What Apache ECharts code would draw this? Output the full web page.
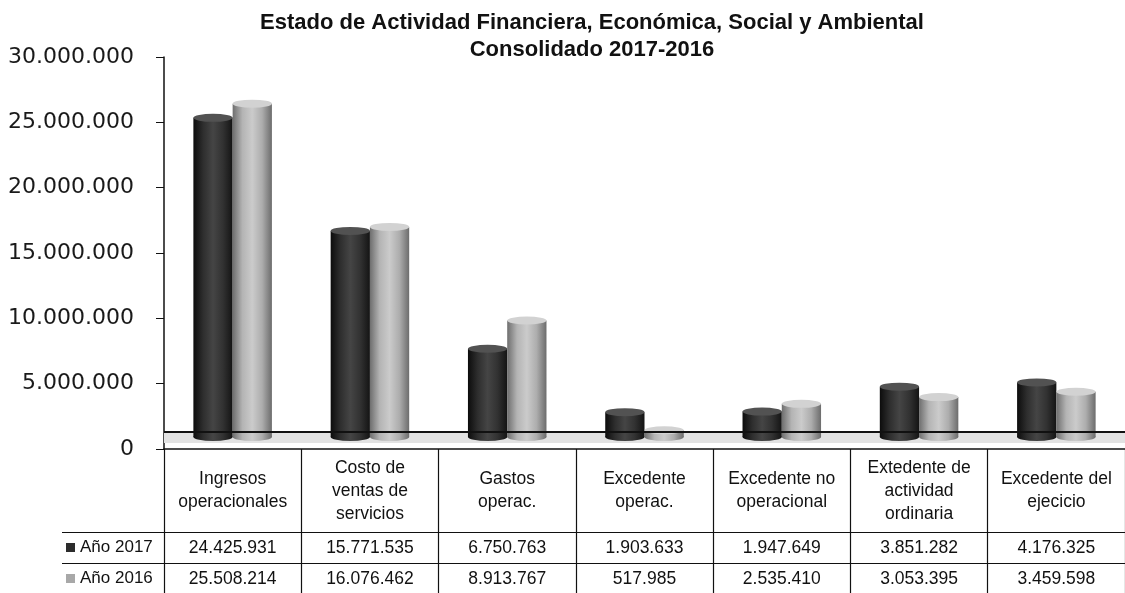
<!DOCTYPE html>
<html>
<head>
<meta charset="utf-8">
<script src="https://cdn.jsdelivr.net/npm/echarts@6/dist/echarts.min.js"></script>
<style>
html,body{margin:0;padding:0;background:#fff;}
#chart{width:1125px;height:593px;}
</style>
</head>
<body>
<div id="chart"></div>
<script>
// ---- data ----
const titleText = 'Estado de Actividad Financiera, Económica, Social y Ambiental\nConsolidado 2017-2016';
const categories = [
  'Ingresos\noperacionales',
  'Costo de\nventas de\nservicios',
  'Gastos\noperac.',
  'Excedente\noperac.',
  'Excedente no\noperacional',
  'Extedente de\nactividad\nordinaria',
  'Excedente del\nejecicio'
];
const seriesNames = ['Año 2017', 'Año 2016'];
const values2017 = [24425931, 15771535, 6750763, 1903633, 1947649, 3851282, 4176325];
const values2016 = [25508214, 16076462, 8913767, 517985, 2535410, 3053395, 3459598];
const yTicks = [0, 5000000, 10000000, 15000000, 20000000, 25000000, 30000000];

// ---- helpers ----
function fmt(n) { return String(n).replace(/\B(?=(\d{3})+(?!\d))/g, '.'); }
const G = echarts.graphic;
function hGrad(stops) { return new G.LinearGradient(0, 0, 1, 0, stops.map((c, i) => ({offset: i / (stops.length - 1), color: c}))); }
const darkBody = hGrad(['#0c0c0c', '#2e2e2e', '#454545', '#323232', '#141414']);
const lightBody = hGrad(['#6e6e6e', '#b4b4b4', '#cbcbcb', '#adadad', '#6c6c6c']);
const darkTop = '#525252';
const lightTop = '#d2d2d2';

const tableFont = 'Liberation Sans, Arial, sans-serif';
const yMax = yTicks[yTicks.length - 1];
const yInterval = yTicks[1] - yTicks[0];
const BW = '28.6%';

const option = {
  animation: false,
  backgroundColor: '#fff',
  title: {
    text: titleText,
    left: 587,
    textAlign: 'center',
    top: 4,
    textStyle: {fontFamily: 'Liberation Sans, Arial', fontWeight: 'bold', fontSize: 22, lineHeight: 27, color: '#111'}
  },
  legend: [
    {data: [{name: seriesNames[0], itemStyle: {color: '#2c2c2c'}}], left: 66, top: 539, padding: 0, icon: 'rect', itemWidth: 9, itemHeight: 9,
     textStyle: {fontFamily: tableFont, fontSize: 17, color: '#111'}, selectedMode: false},
    {data: [{name: seriesNames[1], itemStyle: {color: '#a8a8a8'}}], left: 66, top: 570, padding: 0, icon: 'rect', itemWidth: 9, itemHeight: 9,
     textStyle: {fontFamily: tableFont, fontSize: 17, color: '#111'}, selectedMode: false}
  ],
  grid: [
    {left: 164, right: -6, top: 57, bottom: 144, containLabel: false},
    {left: 164, right: -6, top: 45, bottom: 156, containLabel: false}
  ],
  xAxis: [
    {type: 'category', gridIndex: 0, data: categories, position: 'bottom',
     axisLine: {show: true, onZero: false, lineStyle: {color: '#111', width: 1.5}},
     axisTick: {show: true, interval: 0, length: 150, lineStyle: {color: '#111', width: 1.2}},
     axisLabel: {interval: 0, margin: 42, verticalAlign: 'middle', lineHeight: 23, fontFamily: tableFont, fontSize: 17.5, color: '#111'},
     splitLine: {show: false}},
    {type: 'category', gridIndex: 0, data: values2017.map(fmt), position: 'bottom', offset: 83,
     axisLine: {show: true, onZero: false, lineStyle: {color: '#111', width: 1.2}},
     axisTick: {show: false},
     axisLabel: {interval: 0, margin: 16, verticalAlign: 'middle', fontFamily: tableFont, fontSize: 17.5, color: '#111'}},
    {type: 'category', gridIndex: 0, data: values2016.map(fmt), position: 'bottom', offset: 114,
     axisLine: {show: true, onZero: false, lineStyle: {color: '#111', width: 1.2}},
     axisTick: {show: false},
     axisLabel: {interval: 0, margin: 16, verticalAlign: 'middle', fontFamily: tableFont, fontSize: 17.5, color: '#111'}},
    {type: 'category', gridIndex: 1, data: categories, show: false},
    {type: 'category', gridIndex: 1, data: categories, show: false}
  ],
  yAxis: [
    {type: 'value', gridIndex: 0, min: 0, max: yMax, interval: yInterval,
     axisLine: {show: true, lineStyle: {color: '#111', width: 1.5}},
     axisTick: {show: true, length: 8, lineStyle: {color: '#111'}},
     splitLine: {show: false},
     axisLabel: {margin: 30, formatter: v => fmt(v), fontFamily: 'DejaVu Sans, Verdana, sans-serif', fontSize: 22, color: '#1a1a1a'}},
    {type: 'value', gridIndex: 1, min: 0, max: yMax, interval: yInterval, show: false}
  ],
  series: [
    {
      name: 'floor', type: 'line', xAxisIndex: 0, yAxisIndex: 0, silent: true,
      data: categories.map(() => '-'), symbol: 'none',
      markArea: {silent: true, itemStyle: {color: '#e2e2e2'}, data: [[{yAxis: 450000}, {yAxis: 1300000}]]},
      markLine: {silent: true, symbol: 'none', label: {show: false}, lineStyle: {color: '#111', width: 2, type: 'solid'}, data: [{yAxis: 1300000}]}
    },
    {name: seriesNames[0], type: 'bar', xAxisIndex: 3, yAxisIndex: 1, data: values2017, barWidth: BW, barGap: '0%',
     itemStyle: {color: darkBody}, z: 3},
    {name: seriesNames[1], type: 'bar', xAxisIndex: 3, yAxisIndex: 1, data: values2016, barWidth: BW, barGap: '0%',
     itemStyle: {color: lightBody}, z: 3},
    {name: 't2017', type: 'pictorialBar', xAxisIndex: 3, yAxisIndex: 1, data: values2017, barWidth: BW, barGap: '0%',
     symbol: 'circle', symbolSize: ['100%', 8], symbolPosition: 'end', symbolOffset: [0, '-50%'], itemStyle: {color: darkTop}, z: 4},
    {name: 't2016', type: 'pictorialBar', xAxisIndex: 3, yAxisIndex: 1, data: values2016, barWidth: BW, barGap: '0%',
     symbol: 'circle', symbolSize: ['100%', 8], symbolPosition: 'end', symbolOffset: [0, '-50%'], itemStyle: {color: lightTop}, z: 4},
    {name: 'b2017', type: 'pictorialBar', xAxisIndex: 4, yAxisIndex: 1, data: values2017, barWidth: BW, barGap: '0%',
     symbol: 'circle', symbolSize: ['100%', 8], symbolPosition: 'start', symbolOffset: [0, '50%'], itemStyle: {color: darkBody}, z: 2},
    {name: 'b2016', type: 'pictorialBar', xAxisIndex: 4, yAxisIndex: 1, data: values2016, barWidth: BW, barGap: '0%',
     symbol: 'circle', symbolSize: ['100%', 8], symbolPosition: 'start', symbolOffset: [0, '50%'], itemStyle: {color: lightBody}, z: 2}
  ],
  graphic: [
    {type: 'line', shape: {x1: 62, y1: 532.5, x2: 164, y2: 532.5}, style: {stroke: '#111', lineWidth: 1.2}},
    {type: 'line', shape: {x1: 62, y1: 563.5, x2: 164, y2: 563.5}, style: {stroke: '#111', lineWidth: 1.2}}
  ]
};

const chart = echarts.init(document.getElementById('chart'), null, {renderer: 'canvas'});
chart.setOption(option);
</script>
</body>
</html>
